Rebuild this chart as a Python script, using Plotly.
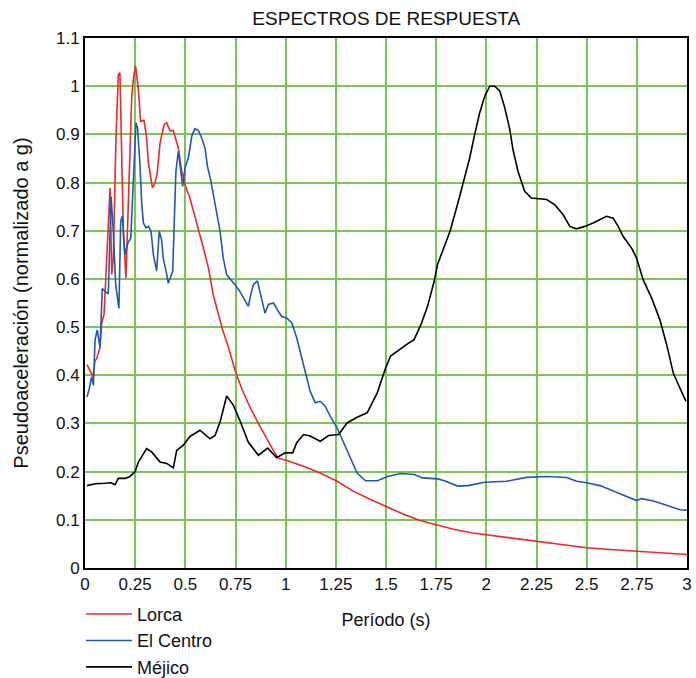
import plotly.graph_objects as go

# Response spectra: period (s) vs pseudo-acceleration normalised to g
lorca_t = [0.01, 0.04, 0.05, 0.058, 0.075, 0.083, 0.095, 0.108, 0.125, 0.133, 0.141, 0.154,
           0.166, 0.174, 0.183, 0.191, 0.204, 0.216, 0.233, 0.244, 0.252, 0.266, 0.277,
           0.294, 0.307, 0.316, 0.336, 0.349, 0.36, 0.374, 0.394, 0.407, 0.424, 0.44,
           0.465, 0.482, 0.503, 0.523, 0.548, 0.565, 0.59, 0.615, 0.64, 0.664, 0.686,
           0.714, 0.748, 0.781, 0.822, 0.864, 0.905, 0.94, 0.963, 1.005, 1.089, 1.172,
           1.256, 1.339, 1.423, 1.507, 1.59, 1.674, 1.757, 1.841, 1.925, 2.017, 2.1,
           2.2, 2.3, 2.4, 2.5, 2.6, 2.75, 2.85, 3.0]
lorca_sa = [0.422, 0.397, 0.43, 0.434, 0.458, 0.508, 0.527, 0.636, 0.789, 0.609, 0.643, 0.886,
            1.024, 1.028, 0.837, 0.699, 0.602, 0.768, 0.979, 1.024, 1.042, 0.993, 0.927,
            0.929, 0.893, 0.841, 0.789, 0.799, 0.82, 0.882, 0.92, 0.924, 0.907, 0.908,
            0.872, 0.823, 0.789, 0.768, 0.73, 0.706, 0.664, 0.623, 0.565, 0.528, 0.494,
            0.459, 0.41, 0.372, 0.334, 0.3, 0.268, 0.243, 0.228, 0.223, 0.211, 0.197,
            0.18, 0.159, 0.142, 0.126, 0.111, 0.098, 0.089, 0.08, 0.073, 0.068, 0.063,
            0.058, 0.052, 0.047, 0.042, 0.039, 0.035, 0.031, 0.028]

centro_t = [0.01, 0.02, 0.033, 0.042, 0.05, 0.061, 0.075, 0.086, 0.103, 0.116, 0.13, 0.141,
            0.153, 0.169, 0.178, 0.186, 0.199, 0.213, 0.228, 0.238, 0.246, 0.254, 0.262,
            0.274, 0.282, 0.291, 0.304, 0.316, 0.329, 0.341, 0.357, 0.37, 0.382, 0.39,
            0.404, 0.415, 0.437, 0.444, 0.453, 0.465, 0.477, 0.487, 0.498, 0.515, 0.532,
            0.548, 0.565, 0.581, 0.598, 0.61, 0.626, 0.636, 0.648, 0.66, 0.673, 0.689,
            0.706, 0.719, 0.748, 0.772, 0.797, 0.814, 0.826, 0.839, 0.859, 0.88, 0.897,
            0.914, 0.939, 0.963, 0.98, 1.005, 1.03, 1.055, 1.08, 1.105, 1.122, 1.147,
            1.172, 1.197, 1.222, 1.256, 1.289, 1.323, 1.356, 1.398, 1.457, 1.507, 1.574,
            1.64, 1.682, 1.757, 1.791, 1.858, 1.908, 1.992, 2.1, 2.2, 2.3, 2.4, 2.45,
            2.5, 2.566, 2.666, 2.749, 2.774, 2.832, 2.898, 2.965, 3.0]
centro_sa = [0.355, 0.37, 0.397, 0.379, 0.473, 0.494, 0.458, 0.58, 0.573, 0.569, 0.771, 0.699,
             0.588, 0.539, 0.72, 0.73, 0.65, 0.674, 0.685, 0.782, 0.858, 0.924, 0.913,
             0.837, 0.761, 0.716, 0.706, 0.709, 0.699, 0.65, 0.616, 0.699, 0.681, 0.643,
             0.616, 0.591, 0.616, 0.726, 0.823, 0.865, 0.83, 0.792, 0.83, 0.851, 0.896,
             0.912, 0.908, 0.893, 0.872, 0.834, 0.806, 0.782, 0.761, 0.726, 0.699, 0.643,
             0.609, 0.602, 0.588, 0.574, 0.557, 0.543, 0.567, 0.588, 0.596, 0.56, 0.529,
             0.547, 0.55, 0.533, 0.522, 0.519, 0.509, 0.478, 0.436, 0.394, 0.367, 0.343,
             0.346, 0.336, 0.315, 0.291, 0.26, 0.228, 0.197, 0.181, 0.181, 0.19, 0.196,
             0.194, 0.187, 0.185, 0.181, 0.17, 0.171, 0.178, 0.18, 0.188, 0.19, 0.188, 0.18,
             0.177, 0.171, 0.154, 0.14, 0.144, 0.139, 0.13, 0.121, 0.12]

mexico_t = [0.01, 0.05, 0.1, 0.13, 0.15, 0.166, 0.2, 0.224, 0.25, 0.266, 0.307, 0.332,
            0.374, 0.407, 0.44, 0.457, 0.49, 0.523, 0.573, 0.623, 0.648, 0.673, 0.706,
            0.739, 0.772, 0.814, 0.864, 0.91, 0.955, 0.997, 1.035, 1.055, 1.089, 1.122,
            1.172, 1.214, 1.264, 1.306, 1.356, 1.406, 1.456, 1.498, 1.523, 1.565, 1.607,
            1.64, 1.674, 1.707, 1.74, 1.757, 1.78, 1.82, 1.86, 1.89, 1.917, 1.942, 1.967,
            1.992, 2.017, 2.042, 2.067, 2.092, 2.117, 2.133, 2.158, 2.191, 2.225, 2.3,
            2.341, 2.383, 2.416, 2.449, 2.491, 2.532, 2.566, 2.599, 2.632, 2.657, 2.682,
            2.724, 2.749, 2.782, 2.824, 2.865, 2.899, 2.932, 2.965, 2.995]
mexico_sa = [0.171, 0.175, 0.176, 0.177, 0.173, 0.186, 0.186, 0.19, 0.2, 0.22, 0.248, 0.241,
             0.22, 0.217, 0.208, 0.244, 0.255, 0.273, 0.286, 0.268, 0.275, 0.303, 0.357,
             0.338, 0.306, 0.261, 0.234, 0.249, 0.229, 0.239, 0.239, 0.26, 0.277, 0.274,
             0.263, 0.275, 0.277, 0.301, 0.313, 0.322, 0.363, 0.415, 0.44, 0.453, 0.465,
             0.474, 0.505, 0.543, 0.595, 0.63, 0.657, 0.7, 0.76, 0.81, 0.851, 0.9, 0.945,
             0.979, 1.0, 1.0, 0.99, 0.955, 0.91, 0.868, 0.823, 0.782, 0.768, 0.765,
             0.754, 0.733, 0.709, 0.704, 0.709, 0.716, 0.723, 0.73, 0.726, 0.709, 0.688,
             0.664, 0.643, 0.598, 0.56, 0.515, 0.463, 0.404, 0.373, 0.346]

x_ticks = [0, 0.25, 0.5, 0.75, 1, 1.25, 1.5, 1.75, 2, 2.25, 2.5, 2.75, 3]
x_tick_text = ["0", "0.25", "0.5", "0.75", "1", "1.25", "1.5", "1.75", "2", "2.25", "2.5", "2.75", "3"]
y_ticks = [0, 0.1, 0.2, 0.3, 0.4, 0.5, 0.6, 0.7, 0.8, 0.9, 1.0, 1.1]
y_tick_text = ["0", "0.1", "0.2", "0.3", "0.4", "0.5", "0.6", "0.7", "0.8", "0.9", "1", "1.1"]

FONT = "Liberation Sans, Arial, sans-serif"
GRID = "#72c850"

fig = go.Figure()
fig.add_trace(go.Scatter(x=lorca_t, y=lorca_sa, mode="lines", name="Lorca",
                         line=dict(color="#f02828", width=1.6)))
fig.add_trace(go.Scatter(x=centro_t, y=centro_sa, mode="lines", name="El Centro",
                         line=dict(color="#2058b0", width=1.6)))
fig.add_trace(go.Scatter(x=mexico_t, y=mexico_sa, mode="lines", name="Méjico",
                         line=dict(color="#000000", width=1.6)))

fig.update_layout(
    width=696, height=678,
    margin=dict(l=85, r=9, t=38, b=110, autoexpand=False),
    paper_bgcolor="white", plot_bgcolor="white",
    font=dict(family=FONT, size=17, color="#111111"),
    title=dict(text="ESPECTROS DE RESPUESTA", x=0.555, xanchor="center",
               y=1 - 18 / 678, yanchor="middle", yref="container",
               font=dict(family=FONT, size=19, color="#111111")),
    xaxis=dict(range=[0, 3], tickvals=x_ticks, ticktext=x_tick_text,
               showgrid=True, gridcolor=GRID, gridwidth=1.6, zeroline=False,
               showline=True, linecolor="black", linewidth=2, mirror=True,
               ticks="", tickfont=dict(size=17), automargin=False,
               title=dict(text="Período (s)", font=dict(size=18), standoff=20)),
    yaxis=dict(range=[0, 1.1], tickvals=y_ticks, ticktext=y_tick_text,
               showgrid=True, gridcolor=GRID, gridwidth=1.6, zeroline=False,
               showline=True, linecolor="black", linewidth=2, mirror=True,
               ticks="", tickfont=dict(size=17), automargin=False,
               title=dict(text="Pseudoaceleración (normalizado a g)", font=dict(size=20),
                          standoff=22)),
    legend=dict(x=-0.0066, xanchor="left", y=-0.0525, yanchor="top",
                font=dict(family=FONT, size=18, color="#111111"),
                bgcolor="rgba(0,0,0,0)", itemwidth=46),
    showlegend=True,
)

fig.write_html("out.html")
